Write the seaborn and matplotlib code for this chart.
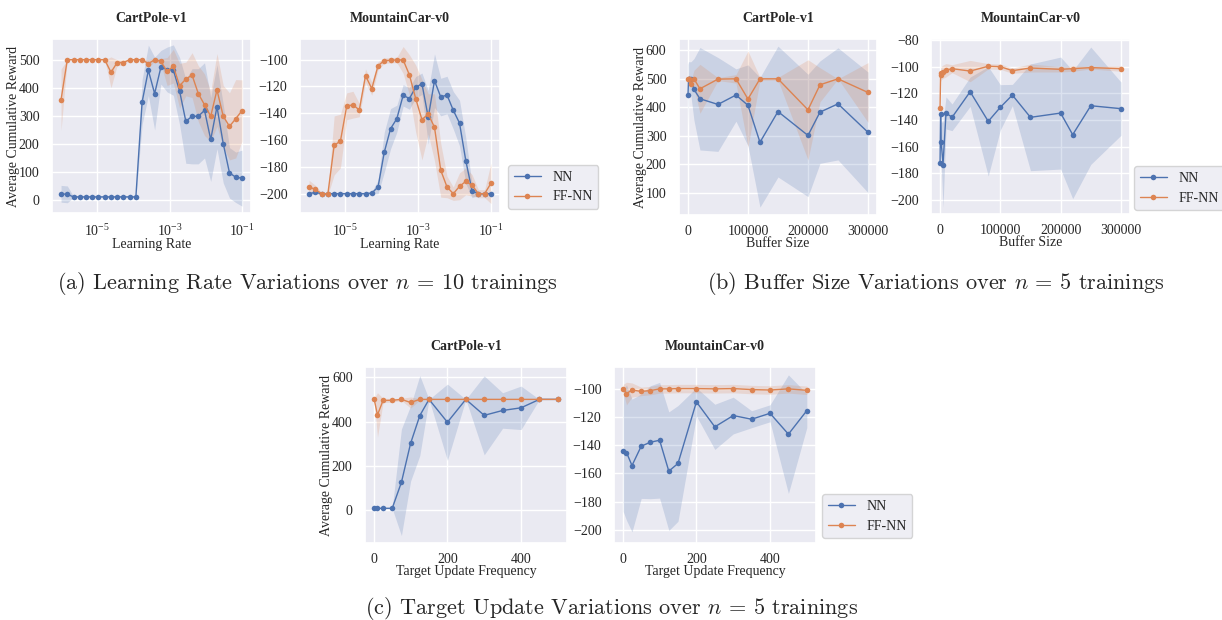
import matplotlib
matplotlib.use("Agg")
import matplotlib.pyplot as plt
import seaborn as sns
from matplotlib.ticker import NullLocator, FixedLocator

# ---- data ----
lr_values = [1.00e-6, 1.49e-6, 2.21e-6, 3.29e-6, 4.89e-6, 7.28e-6, 1.08e-5, 1.61e-5,
             2.40e-5, 3.56e-5, 5.30e-5, 7.88e-5, 1.17e-4, 1.74e-4, 2.59e-4, 3.86e-4,
             5.74e-4, 8.53e-4, 1.27e-3, 1.89e-3, 2.81e-3, 4.18e-3, 6.21e-3, 9.24e-3,
             1.37e-2, 2.04e-2, 3.04e-2, 4.52e-2, 6.72e-2, 1.00e-1]
lr_cp_nn = [21, 19, 10, 10, 10, 10, 10, 10, 10, 10, 10, 10, 10, 349, 462, 379, 473, 465,
            463, 388, 280, 298, 298, 319, 215, 332, 200, 96, 80, 77]
lr_cp_nn_sd = [30, 30, 2, 2, 2, 2, 2, 2, 2, 2, 2, 2, 2, 80, 90, 130, 60, 80, 90, 120,
               150, 170, 170, 170, 150, 150, 140, 90, 90, 100]
lr_cp_ff = [357, 500, 500, 500, 500, 500, 500, 500, 455, 490, 490, 500, 500, 500, 486, 500,
            494, 458, 477, 407, 431, 445, 379, 339, 298, 392, 298, 262, 289, 318]
lr_cp_ff_sd = [110, 0, 0, 0, 0, 0, 0, 0, 55, 10, 10, 0, 0, 0, 15, 5, 10, 50, 60, 80, 60,
               80, 100, 110, 90, 130, 110, 120, 140, 110]
lr_mc_nn = [-200, -199, -200, -200, -200, -200, -200, -200, -200, -200, -199.5, -195, -169,
            -151.5, -144, -126.6, -129, -120.6, -118, -143, -115.7, -127.9, -126.4, -137.8,
            -147.3, -175.4, -198, -200, -200, -200]
lr_mc_nn_sd = [1, 1, 1, 1, 1, 1, 1, 1, 1, 1, 1, 5, 15, 15, 10, 8, 8, 8, 8, 20, 20, 14, 14,
               14, 17, 17, 5, 1, 1, 1]
lr_mc_ff = [-195, -196.8, -200, -200, -164, -160.7, -134.8, -133.6, -137.6, -112, -121.6,
            -104.5, -100.7, -100.5, -100.2, -100.2, -111.4, -129, -144.8, -140.5, -150.5,
            -182.6, -195, -200, -194.5, -190.8, -193.8, -200, -200, -192.3]
lr_mc_ff_sd = [5, 3, 1, 1, 22, 20, 10, 10, 5, 5, 5, 3, 2, 2, 2, 10, 15, 25, 30, 15, 25, 20,
               8, 5, 10, 10, 8, 3, 3, 15]

buf_sizes = [100, 1000, 2000, 5000, 10000, 20000, 50000, 80000, 100000, 120000, 150000,
             200000, 220000, 250000, 300000]
buf_cp_nn = [444, 500, 500, 500, 463, 430, 410, 443, 407, 277, 385, 301, 383, 412, 312]
buf_cp_nn_sd = [107, 60, 60, 60, 108, 180, 165, 92, 142, 228, 230, 215, 180, 197, 212]
buf_cp_ff = [500, 500, 500, 483, 500, 465, 499, 500, 429, 500, 500, 391, 479, 500, 452]
buf_cp_ff_sd = [0, 0, 0, 10, 30, 86, 5, 15, 169, 5, 5, 176, 60, 0, 105]
buf_mc_nn = [-172.2, -135.5, -156.5, -173.5, -134.7, -138, -118.8, -141, -130.5, -121.3,
             -138, -134.8, -151, -129.3, -131.5]
buf_mc_nn_sd = [8, 5, 15, 32, 12, 10, 11, 41, 17, 8, 40, 42, 48, 44, 20]
buf_mc_ff = [-131, -106.2, -104.9, -103.8, -102.7, -101.5, -103.3, -99.7, -100, -103, -101,
             -102, -101.5, -100.7, -101.5]
buf_mc_ff_sd = [3, 5, 5, 5, 5, 3, 8, 2, 2, 2, 3, 2, 2, 1, 2]

tu_freq = [1, 10, 25, 50, 75, 100, 125, 150, 200, 250, 300, 350, 400, 450, 500]
tu_cp_nn = [9, 9, 9, 9, 126, 302, 427, 500, 397, 500, 428, 450, 462, 500, 500]
tu_cp_nn_sd = [1, 1, 1, 1, 240, 170, 180, 0, 172, 0, 178, 80, 98, 0, 0]
tu_cp_ff = [500, 430, 495, 496, 500, 486, 500, 500, 500, 500, 500, 500, 500, 500, 500]
tu_cp_ff_sd = [5, 100, 10, 8, 5, 25, 3, 0, 0, 0, 0, 0, 0, 0, 0]
tu_mc_nn = [-144.1, -145.3, -154.5, -140.8, -138, -136.6, -158.5, -153, -109.4, -127.1,
            -119.1, -121.7, -117.5, -132.3, -115.6]
tu_mc_nn_sd = [43, 48, 47, 37, 40, 41, 42, 41, 10, 16, 13, 6, 6, 42, 12]
tu_mc_ff = [-100, -103.5, -101, -102, -101.4, -100.2, -100.2, -100, -100, -100.2, -100,
            -100.7, -101, -100.2, -101.2]
tu_mc_ff_sd = [3, 8, 5, 3, 3, 3, 3, 3, 3, 3, 3, 3, 3, 3, 3]

series_labels = ["NN", "FF-NN"]
captions = [r"(a) Learning Rate Variations over $n$ = 10 trainings",
            r"(b) Buffer Size Variations over $n$ = 5 trainings",
            r"(c) Target Update Variations over $n$ = 5 trainings"]

# ---- style ----
sns.set_theme(style="darkgrid")
plt.rcParams["font.family"] = ["Liberation Serif", "DejaVu Serif"]
plt.rcParams["mathtext.fontset"] = "stix"
FS = 10
colors = sns.color_palette("deep")

W, H = 1222, 620
fig = plt.figure(figsize=(W / 100, H / 100), dpi=100)


def add_ax(x0, y0, x1, y1):
    return fig.add_axes([x0 / W, 1 - y1 / H, (x1 - x0) / W, (y1 - y0) / H])


def draw(ax, x, nn, nn_sd, ff, ff_sd, title, xlabel, ylabel=None):
    for i, (m, s) in enumerate([(nn, nn_sd), (ff, ff_sd)]):
        lo = [a - b for a, b in zip(m, s)]
        hi = [a + b for a, b in zip(m, s)]
        ax.fill_between(x, lo, hi, color=colors[i], alpha=0.2, linewidth=0)
        sns.lineplot(x=x, y=m, ax=ax, color=colors[i], marker="o", markersize=4,
                     markeredgewidth=0, linewidth=1, label=series_labels[i])
    if ax.get_legend() is not None:
        ax.get_legend().remove()
    ax.set_title(title, fontsize=FS, fontweight="bold", pad=12)
    ax.set_xlabel(xlabel, fontsize=FS, labelpad=-1)
    ax.set_ylabel(ylabel if ylabel else "", fontsize=FS, labelpad=-1)
    ax.tick_params(axis="y", labelsize=FS, pad=3)
    ax.tick_params(axis="x", labelsize=FS, pad=1.5)


def add_legend(ax, x, y):
    h, l = ax.get_legend_handles_labels()
    fig.legend(h, l, loc="upper left", bbox_to_anchor=(x / W, 1 - y / H),
               fontsize=FS, borderaxespad=0, handlelength=2.0, handletextpad=0.8)


# (a) learning rate
ax = add_ax(52, 39, 251, 213)
draw(ax, lr_values, lr_cp_nn, lr_cp_nn_sd, lr_cp_ff, lr_cp_ff_sd,
     "CartPole-v1", "Learning Rate", "Average Cumulative Reward")
ax.set_xscale("log")
ax.set_ylim(-47.6, 574)
ax.set_yticks([0, 100, 200, 300, 400, 500])
ax.xaxis.set_major_locator(FixedLocator([1e-5, 1e-3, 1e-1]))
ax.xaxis.set_minor_locator(NullLocator())

ax = add_ax(300, 39, 500, 213)
draw(ax, lr_values, lr_mc_nn, lr_mc_nn_sd, lr_mc_ff, lr_mc_ff_sd,
     "MountainCar-v0", "Learning Rate")
ax.set_xscale("log")
ax.set_ylim(-214.4, -84.6)
ax.set_yticks([-200, -180, -160, -140, -120, -100])
ax.xaxis.set_major_locator(FixedLocator([1e-5, 1e-3, 1e-1]))
ax.xaxis.set_minor_locator(NullLocator())
add_legend(ax, 508, 165)

# (b) buffer size
ax = add_ax(679, 39, 877, 215)
draw(ax, buf_sizes, buf_cp_nn, buf_cp_nn_sd, buf_cp_ff, buf_cp_ff_sd,
     "CartPole-v1", "Buffer Size", "Average Cumulative Reward")
ax.set_ylim(21.4, 640)
ax.set_yticks([100, 200, 300, 400, 500, 600])
ax.set_xticks([0, 100000, 200000, 300000])
ax.set_xticklabels(["0", "100000", "200000", "300000"])

ax = add_ax(931, 39, 1130, 214)
draw(ax, buf_sizes, buf_mc_nn, buf_mc_nn_sd, buf_mc_ff, buf_mc_ff_sd,
     "MountainCar-v0", "Buffer Size")
ax.set_ylim(-210.5, -79.25)
ax.set_yticks([-200, -180, -160, -140, -120, -100, -80])
ax.set_xticks([0, 100000, 200000, 300000])
ax.set_xticklabels(["0", "100000", "200000", "300000"])
add_legend(ax, 1134, 166)

# (c) target update frequency
ax = add_ax(365, 367, 567, 543)
draw(ax, tu_freq, tu_cp_nn, tu_cp_nn_sd, tu_cp_ff, tu_cp_ff_sd,
     "CartPole-v1", "Target Update Frequency", "Average Cumulative Reward")
ax.set_ylim(-147.5, 646)
ax.set_yticks([0, 200, 400, 600])
ax.set_xticks([0, 200, 400])

ax = add_ax(614, 367, 816, 543)
draw(ax, tu_freq, tu_mc_nn, tu_mc_nn_sd, tu_mc_ff, tu_mc_ff_sd,
     "MountainCar-v0", "Target Update Frequency")
ax.set_ylim(-209.4, -84.7)
ax.set_yticks([-200, -180, -160, -140, -120, -100])
ax.set_xticks([0, 200, 400])
add_legend(ax, 822, 494)

# captions
for (cx, cy), txt in zip([(307, 283), (936, 283), (612, 608)], captions):
    fig.text(cx / W, 1 - cy / H, txt, ha="center", va="center", fontsize=16,
             family="cmr10", math_fontfamily="cm")

fig.savefig("out.png", dpi=100)
